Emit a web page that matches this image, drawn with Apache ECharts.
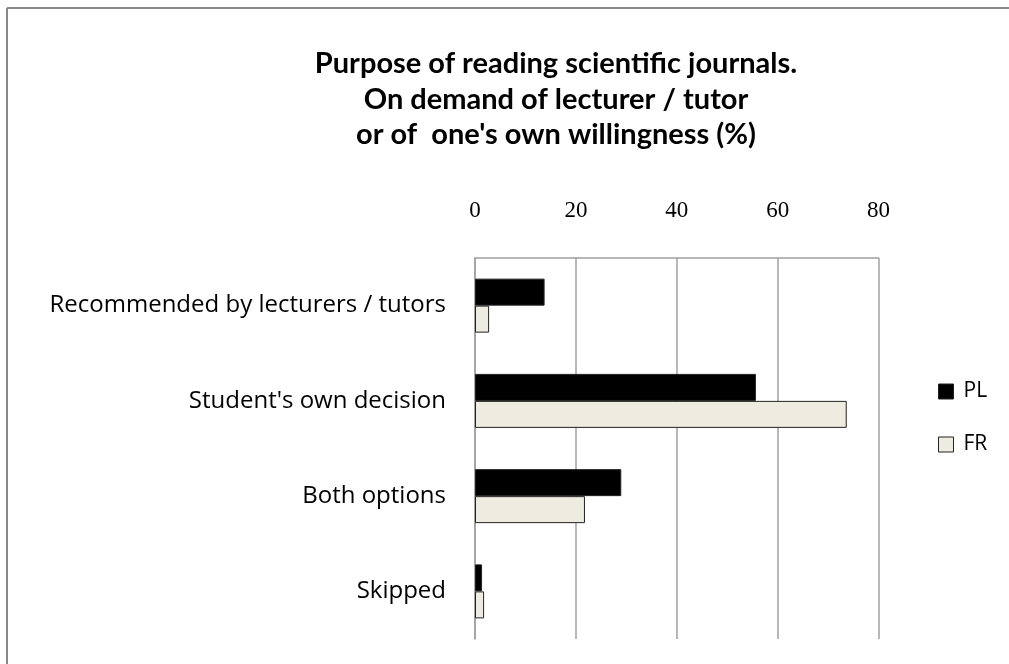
<!DOCTYPE html>
<html><head><meta charset="utf-8">
<script src="https://cdn.jsdelivr.net/npm/echarts@6/dist/echarts.min.js"></script>
<style>html,body{margin:0;padding:0;background:#fff}#c{width:1009px;height:664px}</style>
</head><body><div id="c"></div>
<script>
const categories = ["Recommended by lecturers / tutors", "Student's own decision", "Both options", "Skipped"];
const seriesNames = ["PL", "FR"];
const plValues = [13.8, 55.7, 29.0, 1.4];
const frValues = [2.8, 73.7, 21.8, 1.8];
const xTicks = [0, 20, 40, 60, 80];
const titleLines = ["Purpose of reading scientific journals.", "On demand of lecturer / tutor", "or of  one's own willingness (%)"];

const TFONT = "Lato, 'Open Sans', sans-serif";
const LFONT = "'Open Sans', Lato, sans-serif";
const NFONT = "'Liberation Serif', 'DejaVu Serif', serif";
const chart = echarts.init(document.getElementById('c'), null, {renderer: 'canvas'});
chart.setOption({
  animation: false,
  backgroundColor: '#fff',
  title: {
    text: titleLines.join('\n'),
    left: 551, top: 41, textAlign: 'center',
    textStyle: {fontFamily: TFONT, fontSize: 29, fontWeight: 'bold', color: '#000', lineHeight: 35.5}
  },
  graphic: [
    {type: 'line', shape: {x1: 7, y1: 8, x2: 1009, y2: 8}, style: {stroke: '#888', lineWidth: 2}},
    {type: 'line', shape: {x1: 7, y1: 8, x2: 7, y2: 664}, style: {stroke: '#888', lineWidth: 2}}
  ],
  legend: {
    orient: 'vertical', left: 938, top: 381, padding: 0, itemWidth: 15, itemHeight: 15, itemGap: 32,
    icon: 'rect',
    itemStyle: {borderColor: '#222', borderWidth: 1},
    textStyle: {fontFamily: LFONT, fontSize: 21, color: '#000', padding: [0, 0, 0, 5]},
    data: seriesNames
  },
  grid: {left: 475, right: 130.5, top: 258, bottom: 25, containLabel: false},
  xAxis: {
    type: 'value', position: 'top', min: xTicks[0], max: xTicks[xTicks.length - 1], interval: 20,
    axisLine: {show: true, lineStyle: {color: '#a0a0a0', width: 1.5}},
    axisTick: {show: false},
    axisLabel: {margin: 36, fontFamily: NFONT, fontSize: 23, color: '#000'},
    splitLine: {show: true, lineStyle: {color: '#a0a0a0', width: 1.5}}
  },
  yAxis: {
    type: 'category', inverse: true, data: categories,
    axisLine: {show: true, lineStyle: {color: '#a0a0a0', width: 1.5}},
    axisTick: {show: false},
    axisLabel: {margin: 29, fontFamily: LFONT, fontSize: 24, color: '#000'}
  },
  series: [
    {name: seriesNames[0], type: 'bar', data: plValues, barWidth: 27, barGap: '0%',
     itemStyle: {color: '#000', borderColor: '#222', borderWidth: 1}},
    {name: seriesNames[1], type: 'bar', data: frValues, barWidth: 27, barGap: '0%',
     itemStyle: {color: '#eeebe0', borderColor: '#222', borderWidth: 1}}
  ]
});
</script></body></html>
